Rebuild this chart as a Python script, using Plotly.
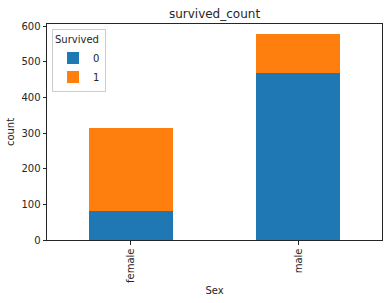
import plotly.graph_objects as go

categories = ["female", "male"]
died = [81, 468]
survived = [233, 109]
series_names = ["0", "1"]
colors = ["#1f77b4", "#ff7f0e"]
ymax = max(d + s for d, s in zip(died, survived)) * 1.05

fig = go.Figure()
for name, vals, c in zip(series_names, [died, survived], colors):
    fig.add_trace(go.Bar(x=[0, 1], y=vals, name=name, marker=dict(color=c, line=dict(width=0)),
                         width=0.5))

fig.update_layout(
    barmode="stack",
    width=389, height=303,
    margin=dict(l=47, r=7, t=24, b=63, autoexpand=False),
    paper_bgcolor="white", plot_bgcolor="white",
    font=dict(family="DejaVu Sans", size=10, color="#262626"),
    title=dict(text="survived_count", x=0.5, xref="paper", xanchor="center",
               y=1 - 14 / 303, yanchor="middle", font=dict(size=12)),
    xaxis=dict(range=[-0.5, 1.5], tickmode="array", tickvals=[0, 1], ticktext=categories,
               tickangle=-90, showline=True, mirror=True, linecolor="#262626", linewidth=1,
               ticks="outside", ticklen=3.5, tickcolor="#262626", showgrid=False, zeroline=False,
               automargin=False,
               title=dict(text="Sex", standoff=5, font=dict(size=10))),
    yaxis=dict(range=[0, ymax], tickvals=[0, 100, 200, 300, 400, 500, 600],
               showline=True, mirror=True, linecolor="#262626", linewidth=1,
               ticks="outside", ticklen=3.5, tickcolor="#262626", showgrid=False, zeroline=False,
               automargin=False,
               title=dict(text="count", standoff=4, font=dict(size=10))),
    legend=dict(title=dict(text="Survived", font=dict(size=10)), x=0.015, y=0.975,
                xanchor="left", yanchor="top", bordercolor="#cccccc", borderwidth=1,
                bgcolor="rgba(255,255,255,0.8)", font=dict(size=10), traceorder="normal"),
)

fig.write_html("out.html")
